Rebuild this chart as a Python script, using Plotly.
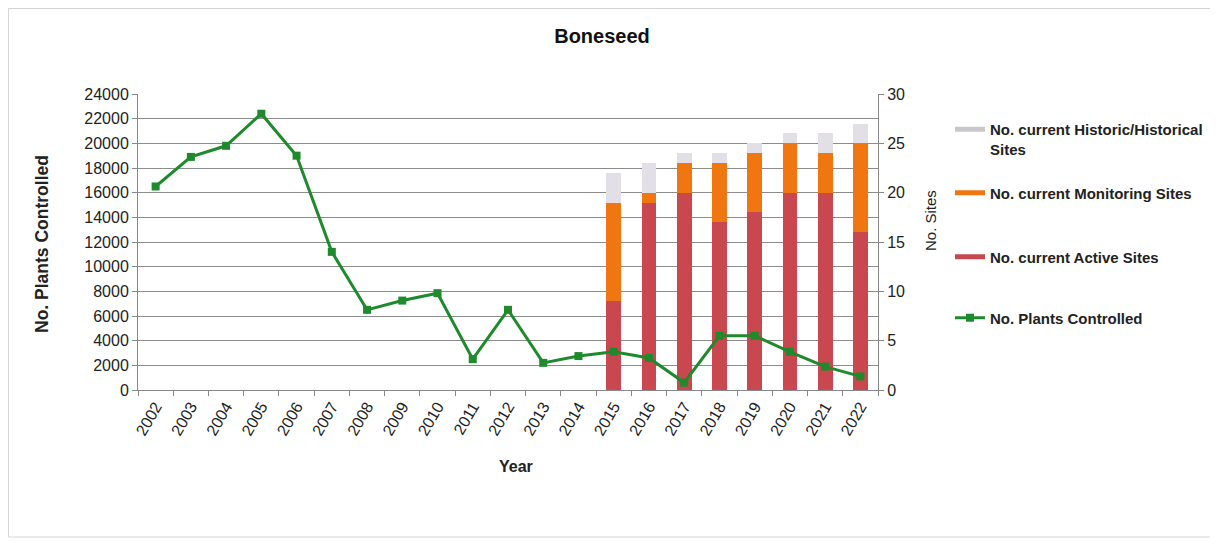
import plotly.graph_objects as go

years = [str(y) for y in range(2002, 2023)]
plants_controlled = [16500, 18900, 19800, 22400, 19000, 11200, 6500, 7250, 7850, 2500,
                     6500, 2200, 2750, 3100, 2600, 600, 4400, 4400, 3100, 1900, 1100]
active_sites = [None] * 13 + [9, 19, 20, 17, 18, 20, 20, 16]
monitoring_sites = [None] * 13 + [10, 1, 3, 6, 6, 5, 4, 9]
historic_sites = [None] * 13 + [3, 3, 1, 1, 1, 1, 2, 2]

FONT = "Liberation Sans, Arial, sans-serif"
OFF = 8  # page body margin
W, H = 1218, 545
PL, PR, PT, PB = 138, 878, 94, 390  # plot area in screenshot pixels
PW, PH = PR - PL, PB - PT
L, T = PL - OFF, PT - OFF
R, B = W - L - PW, H - T - PH

C_ACT, C_MON, C_HIS, C_LINE = "#C9474F", "#F07612", "#E2DFE6", "#1E8A2C"


def px(xp):
    return (xp - PL) / PW


def py(yp):
    return (PB - yp) / PH


fig = go.Figure()
fig.add_trace(go.Bar(x=years, y=active_sites, name="No. current Active Sites",
                     marker=dict(color=C_ACT, line=dict(width=0)), yaxis="y",
                     showlegend=False))
fig.add_trace(go.Bar(x=years, y=monitoring_sites, name="No. current Monitoring Sites",
                     marker=dict(color=C_MON, line=dict(width=0)), yaxis="y",
                     showlegend=False))
fig.add_trace(go.Bar(x=years, y=historic_sites, name="No. current Historic/Historical Sites",
                     marker=dict(color=C_HIS, line=dict(width=0)), yaxis="y",
                     showlegend=False))
fig.add_trace(go.Scatter(x=years, y=plants_controlled, name="<b>No. Plants Controlled</b>",
                         mode="lines+markers", yaxis="y2",
                         line=dict(color=C_LINE, width=3),
                         marker=dict(symbol="square", size=8, color=C_LINE),
                         legend="legend4"))

# legend keys (Excel-style line keys for the stacked bars)
for name, color, leg in [
    ("<b>No. current Historic/Historical<br>Sites</b>", "#C8C8CC", "legend"),
    ("<b>No. current Monitoring Sites</b>", C_MON, "legend2"),
    ("<b>No. current Active Sites</b>", C_ACT, "legend3"),
]:
    fig.add_trace(go.Scatter(x=[None], y=[None], mode="lines", name=name,
                             line=dict(color=color, width=5), yaxis="y", legend=leg))

leg_common = dict(x=px(950), xanchor="left", yanchor="middle",
                  font=dict(size=15, color="#222222"), bgcolor="rgba(0,0,0,0)",
                  itemwidth=30)

fig.update_layout(
    width=W, height=H,
    margin=dict(l=L, r=R, t=T, b=B, autoexpand=False),
    paper_bgcolor="white", plot_bgcolor="white",
    font=dict(family=FONT, size=16, color="#222222"),
    barmode="stack", bargap=0.58,
    title=dict(text="<b>Boneseed</b>", x=(602 - OFF) / W, xanchor="center",
               y=1 - (36 - OFF) / H, yanchor="middle", xref="container", yref="container",
               font=dict(size=20, family=FONT, color="#111111")),
    xaxis=dict(type="category", categoryorder="array", categoryarray=years,
               range=[-0.5, len(years) - 0.5], tickangle=-60, tickson="boundaries",
               ticks="outside", ticklen=5, tickcolor="#888888", showline=True,
               linecolor="#888888", tickfont=dict(size=16), showgrid=False),
    yaxis=dict(side="right", range=[0, 30], dtick=5, tick0=0, showgrid=True,
               gridcolor="#8C8C8C", gridwidth=1, showline=True, linecolor="#888888",
               ticks="outside", ticklen=5, tickcolor="#888888",
               minor=dict(dtick=2.5, showgrid=True, gridcolor="#8C8C8C", ticks=""),
               tickfont=dict(size=16), zeroline=False),
    yaxis2=dict(side="left", overlaying="y", range=[0, 24000], dtick=2000, showgrid=False,
                tickformat="d", showline=True, linecolor="#888888", ticks="outside",
                ticklen=5, tickcolor="#888888", tickfont=dict(size=16), zeroline=False),
    legend=dict(leg_common, y=py(139), valign="top"),
    legend2=dict(leg_common, y=py(193)),
    legend3=dict(leg_common, y=py(257)),
    legend4=dict(leg_common, y=py(318)),
    annotations=[
        dict(text="<b>No. Plants Controlled</b>", x=px(42), y=py(244), xref="paper",
             yref="paper", textangle=-90, showarrow=False, xanchor="center",
             yanchor="middle", font=dict(size=17.5)),
        dict(text="No. Sites", x=px(930), y=py(221), xref="paper", yref="paper",
             textangle=-90, showarrow=False, xanchor="center", yanchor="middle",
             font=dict(size=15)),
        dict(text="<b>Year</b>", x=px(516), y=py(466), xref="paper", yref="paper",
             showarrow=False, xanchor="center", yanchor="middle", font=dict(size=16)),
    ],
    shapes=[dict(type="rect", xref="paper", yref="paper", x0=px(8.5), x1=px(1212),
                 y0=py(537), y1=py(8.5), line=dict(color="#D4D4D4", width=1),
                 layer="below")],
)

fig.write_html("out.html")
